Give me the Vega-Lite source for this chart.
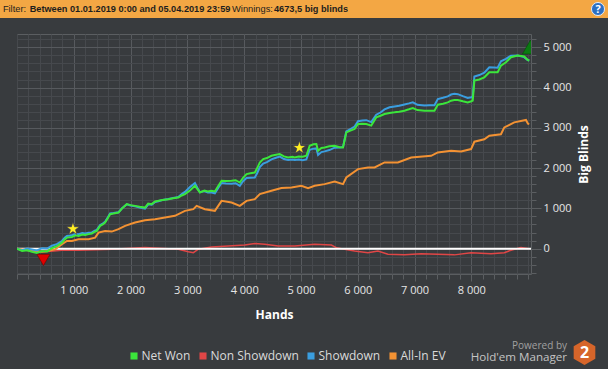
{
  "$schema": "https://vega.github.io/schema/vega-lite/v6.json",
  "background": "#383b3e",
  "padding": {"left": 0, "top": 0, "right": 0, "bottom": 4},
  "spacing": 15,
  "datasets": {
    "lines": [
      {"series":"Net Won","hands":0,"bb":0},{"series":"Net Won","hands":90,"bb":-60},{"series":"Net Won","hands":180,"bb":-40},{"series":"Net Won","hands":264,"bb":-80},{"series":"Net Won","hands":350,"bb":-110},{"series":"Net Won","hands":439,"bb":-60},{"series":"Net Won","hands":530,"bb":-70},{"series":"Net Won","hands":615,"bb":10},{"series":"Net Won","hands":700,"bb":60},{"series":"Net Won","hands":791,"bb":149},{"series":"Net Won","hands":840,"bb":230},{"series":"Net Won","hands":879,"bb":274},{"series":"Net Won","hands":966,"bb":291},{"series":"Net Won","hands":1030,"bb":330},{"series":"Net Won","hands":1084,"bb":316},{"series":"Net Won","hands":1150,"bb":350},{"series":"Net Won","hands":1200,"bb":341},{"series":"Net Won","hands":1260,"bb":360},{"series":"Net Won","hands":1318,"bb":373},{"series":"Net Won","hands":1370,"bb":420},{"series":"Net Won","hands":1406,"bb":440},{"series":"Net Won","hands":1464,"bb":565},{"series":"Net Won","hands":1510,"bb":600},{"series":"Net Won","hands":1551,"bb":647},{"series":"Net Won","hands":1600,"bb":760},{"series":"Net Won","hands":1639,"bb":856},{"series":"Net Won","hands":1700,"bb":870},{"series":"Net Won","hands":1787,"bb":896},{"series":"Net Won","hands":1850,"bb":1000},{"series":"Net Won","hands":1933,"bb":1105},{"series":"Net Won","hands":2000,"bb":1080},{"series":"Net Won","hands":2079,"bb":1062},{"series":"Net Won","hands":2160,"bb":1040},{"series":"Net Won","hands":2254,"bb":1020},{"series":"Net Won","hands":2310,"bb":1120},{"series":"Net Won","hands":2372,"bb":1105},{"series":"Net Won","hands":2430,"bb":1170},{"series":"Net Won","hands":2490,"bb":1187},{"series":"Net Won","hands":2560,"bb":1210},{"series":"Net Won","hands":2665,"bb":1229},{"series":"Net Won","hands":2750,"bb":1250},{"series":"Net Won","hands":2841,"bb":1269},{"series":"Net Won","hands":2900,"bb":1320},{"series":"Net Won","hands":2957,"bb":1353},{"series":"Net Won","hands":3050,"bb":1450},{"series":"Net Won","hands":3133,"bb":1560},{"series":"Net Won","hands":3180,"bb":1470},{"series":"Net Won","hands":3221,"bb":1393},{"series":"Net Won","hands":3300,"bb":1440},{"series":"Net Won","hands":3360,"bb":1420},{"series":"Net Won","hands":3426,"bb":1436},{"series":"Net Won","hands":3484,"bb":1420},{"series":"Net Won","hands":3540,"bb":1550},{"series":"Net Won","hands":3602,"bb":1684},{"series":"Net Won","hands":3680,"bb":1680},{"series":"Net Won","hands":3778,"bb":1684},{"series":"Net Won","hands":3850,"bb":1700},{"series":"Net Won","hands":3923,"bb":1642},{"series":"Net Won","hands":3980,"bb":1760},{"series":"Net Won","hands":4041,"bb":1851},{"series":"Net Won","hands":4110,"bb":1870},{"series":"Net Won","hands":4187,"bb":1891},{"series":"Net Won","hands":4230,"bb":2000},{"series":"Net Won","hands":4275,"bb":2140},{"series":"Net Won","hands":4335,"bb":2224},{"series":"Net Won","hands":4400,"bb":2250},{"series":"Net Won","hands":4480,"bb":2306},{"series":"Net Won","hands":4560,"bb":2330},{"series":"Net Won","hands":4626,"bb":2349},{"series":"Net Won","hands":4700,"bb":2290},{"series":"Net Won","hands":4774,"bb":2264},{"series":"Net Won","hands":4850,"bb":2280},{"series":"Net Won","hands":4890,"bb":2264},{"series":"Net Won","hands":4960,"bb":2290},{"series":"Net Won","hands":5030,"bb":2280},{"series":"Net Won","hands":5095,"bb":2306},{"series":"Net Won","hands":5153,"bb":2555},{"series":"Net Won","hands":5220,"bb":2590},{"series":"Net Won","hands":5271,"bb":2597},{"series":"Net Won","hands":5301,"bb":2431},{"series":"Net Won","hands":5360,"bb":2500},{"series":"Net Won","hands":5417,"bb":2513},{"series":"Net Won","hands":5500,"bb":2540},{"series":"Net Won","hands":5593,"bb":2555},{"series":"Net Won","hands":5680,"bb":2520},{"series":"Net Won","hands":5740,"bb":2513},{"series":"Net Won","hands":5798,"bb":2886},{"series":"Net Won","hands":5870,"bb":2930},{"series":"Net Won","hands":5944,"bb":2971},{"series":"Net Won","hands":6004,"bb":3095},{"series":"Net Won","hands":6080,"bb":3100},{"series":"Net Won","hands":6150,"bb":3095},{"series":"Net Won","hands":6237,"bb":3055},{"series":"Net Won","hands":6325,"bb":3259},{"series":"Net Won","hands":6400,"bb":3300},{"series":"Net Won","hands":6471,"bb":3344},{"series":"Net Won","hands":6560,"bb":3370},{"series":"Net Won","hands":6647,"bb":3384},{"series":"Net Won","hands":6730,"bb":3400},{"series":"Net Won","hands":6822,"bb":3426},{"series":"Net Won","hands":6900,"bb":3460},{"series":"Net Won","hands":6970,"bb":3493},{"series":"Net Won","hands":7050,"bb":3440},{"series":"Net Won","hands":7174,"bb":3426},{"series":"Net Won","hands":7260,"bb":3426},{"series":"Net Won","hands":7350,"bb":3426},{"series":"Net Won","hands":7409,"bb":3575},{"series":"Net Won","hands":7500,"bb":3600},{"series":"Net Won","hands":7585,"bb":3632},{"series":"Net Won","hands":7643,"bb":3675},{"series":"Net Won","hands":7700,"bb":3690},{"series":"Net Won","hands":7761,"bb":3692},{"series":"Net Won","hands":7850,"bb":3660},{"series":"Net Won","hands":7936,"bb":3632},{"series":"Net Won","hands":8000,"bb":3660},{"series":"Net Won","hands":8024,"bb":3675},{"series":"Net Won","hands":8053,"bb":4172},{"series":"Net Won","hands":8140,"bb":4200},{"series":"Net Won","hands":8228,"bb":4254},{"series":"Net Won","hands":8316,"bb":4379},{"series":"Net Won","hands":8400,"bb":4380},{"series":"Net Won","hands":8463,"bb":4379},{"series":"Net Won","hands":8521,"bb":4546},{"series":"Net Won","hands":8609,"bb":4628},{"series":"Net Won","hands":8697,"bb":4752},{"series":"Net Won","hands":8815,"bb":4794},{"series":"Net Won","hands":8931,"bb":4770},{"series":"Net Won","hands":8991,"bb":4687},{"series":"Net Won","hands":9020,"bb":4673.5},
      {"series":"Showdown","hands":0,"bb":0},{"series":"Showdown","hands":90,"bb":-40},{"series":"Showdown","hands":180,"bb":0},{"series":"Showdown","hands":264,"bb":-20},{"series":"Showdown","hands":350,"bb":-44},{"series":"Showdown","hands":439,"bb":12},{"series":"Showdown","hands":530,"bb":1},{"series":"Showdown","hands":615,"bb":71},{"series":"Showdown","hands":700,"bb":111},{"series":"Showdown","hands":791,"bb":189},{"series":"Showdown","hands":840,"bb":270},{"series":"Showdown","hands":879,"bb":314},{"series":"Showdown","hands":966,"bb":331},{"series":"Showdown","hands":1030,"bb":370},{"series":"Showdown","hands":1084,"bb":356},{"series":"Showdown","hands":1150,"bb":387},{"series":"Showdown","hands":1200,"bb":376},{"series":"Showdown","hands":1260,"bb":392},{"series":"Showdown","hands":1318,"bb":403},{"series":"Showdown","hands":1370,"bb":448},{"series":"Showdown","hands":1406,"bb":466},{"series":"Showdown","hands":1464,"bb":589},{"series":"Showdown","hands":1510,"bb":622},{"series":"Showdown","hands":1551,"bb":667},{"series":"Showdown","hands":1600,"bb":778},{"series":"Showdown","hands":1639,"bb":873},{"series":"Showdown","hands":1700,"bb":883},{"series":"Showdown","hands":1787,"bb":903},{"series":"Showdown","hands":1850,"bb":1003},{"series":"Showdown","hands":1933,"bb":1102},{"series":"Showdown","hands":2000,"bb":1073},{"series":"Showdown","hands":2079,"bb":1049},{"series":"Showdown","hands":2160,"bb":1021},{"series":"Showdown","hands":2254,"bb":995},{"series":"Showdown","hands":2310,"bb":1099},{"series":"Showdown","hands":2372,"bb":1088},{"series":"Showdown","hands":2430,"bb":1157},{"series":"Showdown","hands":2490,"bb":1178},{"series":"Showdown","hands":2560,"bb":1206},{"series":"Showdown","hands":2665,"bb":1232},{"series":"Showdown","hands":2750,"bb":1259},{"series":"Showdown","hands":2841,"bb":1284},{"series":"Showdown","hands":2900,"bb":1355},{"series":"Showdown","hands":2957,"bb":1408},{"series":"Showdown","hands":3050,"bb":1534},{"series":"Showdown","hands":3133,"bb":1630},{"series":"Showdown","hands":3180,"bb":1498},{"series":"Showdown","hands":3221,"bb":1401},{"series":"Showdown","hands":3300,"bb":1430},{"series":"Showdown","hands":3360,"bb":1396},{"series":"Showdown","hands":3426,"bb":1396},{"series":"Showdown","hands":3484,"bb":1375},{"series":"Showdown","hands":3540,"bb":1500},{"series":"Showdown","hands":3602,"bb":1629},{"series":"Showdown","hands":3680,"bb":1618},{"series":"Showdown","hands":3778,"bb":1614},{"series":"Showdown","hands":3850,"bb":1624},{"series":"Showdown","hands":3923,"bb":1560},{"series":"Showdown","hands":3980,"bb":1673},{"series":"Showdown","hands":4041,"bb":1755},{"series":"Showdown","hands":4110,"bb":1760},{"series":"Showdown","hands":4187,"bb":1766},{"series":"Showdown","hands":4230,"bb":1879},{"series":"Showdown","hands":4275,"bb":2023},{"series":"Showdown","hands":4335,"bb":2112},{"series":"Showdown","hands":4400,"bb":2147},{"series":"Showdown","hands":4480,"bb":2218},{"series":"Showdown","hands":4560,"bb":2258},{"series":"Showdown","hands":4626,"bb":2284},{"series":"Showdown","hands":4700,"bb":2225},{"series":"Showdown","hands":4774,"bb":2199},{"series":"Showdown","hands":4850,"bb":2215},{"series":"Showdown","hands":4890,"bb":2199},{"series":"Showdown","hands":4960,"bb":2216},{"series":"Showdown","hands":5030,"bb":2197},{"series":"Showdown","hands":5095,"bb":2215},{"series":"Showdown","hands":5153,"bb":2456},{"series":"Showdown","hands":5220,"bb":2483},{"series":"Showdown","hands":5271,"bb":2489},{"series":"Showdown","hands":5301,"bb":2325},{"series":"Showdown","hands":5360,"bb":2398},{"series":"Showdown","hands":5417,"bb":2415},{"series":"Showdown","hands":5500,"bb":2448},{"series":"Showdown","hands":5593,"bb":2508},{"series":"Showdown","hands":5680,"bb":2511},{"series":"Showdown","hands":5740,"bb":2521},{"series":"Showdown","hands":5798,"bb":2909},{"series":"Showdown","hands":5870,"bb":2971},{"series":"Showdown","hands":5944,"bb":3031},{"series":"Showdown","hands":6004,"bb":3165},{"series":"Showdown","hands":6080,"bb":3183},{"series":"Showdown","hands":6150,"bb":3190},{"series":"Showdown","hands":6237,"bb":3142},{"series":"Showdown","hands":6325,"bb":3326},{"series":"Showdown","hands":6400,"bb":3380},{"series":"Showdown","hands":6471,"bb":3457},{"series":"Showdown","hands":6560,"bb":3511},{"series":"Showdown","hands":6647,"bb":3530},{"series":"Showdown","hands":6730,"bb":3550},{"series":"Showdown","hands":6822,"bb":3581},{"series":"Showdown","hands":6900,"bb":3607},{"series":"Showdown","hands":6970,"bb":3633},{"series":"Showdown","hands":7050,"bb":3572},{"series":"Showdown","hands":7174,"bb":3554},{"series":"Showdown","hands":7260,"bb":3558},{"series":"Showdown","hands":7350,"bb":3563},{"series":"Showdown","hands":7409,"bb":3715},{"series":"Showdown","hands":7500,"bb":3745},{"series":"Showdown","hands":7585,"bb":3781},{"series":"Showdown","hands":7643,"bb":3827},{"series":"Showdown","hands":7700,"bb":3845},{"series":"Showdown","hands":7761,"bb":3836},{"series":"Showdown","hands":7850,"bb":3787},{"series":"Showdown","hands":7936,"bb":3743},{"series":"Showdown","hands":8000,"bb":3760},{"series":"Showdown","hands":8024,"bb":3777},{"series":"Showdown","hands":8053,"bb":4276},{"series":"Showdown","hands":8140,"bb":4310},{"series":"Showdown","hands":8228,"bb":4370},{"series":"Showdown","hands":8316,"bb":4502},{"series":"Showdown","hands":8400,"bb":4499},{"series":"Showdown","hands":8463,"bb":4491},{"series":"Showdown","hands":8521,"bb":4652},{"series":"Showdown","hands":8609,"bb":4713},{"series":"Showdown","hands":8697,"bb":4792},{"series":"Showdown","hands":8815,"bb":4798},{"series":"Showdown","hands":8931,"bb":4755},{"series":"Showdown","hands":8991,"bb":4682},{"series":"Showdown","hands":9020,"bb":4673.5},
      {"series":"Non Showdown","hands":0,"bb":0},{"series":"Non Showdown","hands":264,"bb":-60},{"series":"Non Showdown","hands":497,"bb":-75},{"series":"Non Showdown","hands":791,"bb":-40},{"series":"Non Showdown","hands":1084,"bb":-40},{"series":"Non Showdown","hands":1669,"bb":-15},{"series":"Non Showdown","hands":2254,"bb":25},{"series":"Non Showdown","hands":2841,"bb":-15},{"series":"Non Showdown","hands":3017,"bb":-75},{"series":"Non Showdown","hands":3105,"bb":-100},{"series":"Non Showdown","hands":3193,"bb":-15},{"series":"Non Showdown","hands":3426,"bb":40},{"series":"Non Showdown","hands":3720,"bb":65},{"series":"Non Showdown","hands":4011,"bb":90},{"series":"Non Showdown","hands":4187,"bb":125},{"series":"Non Showdown","hands":4363,"bb":110},{"series":"Non Showdown","hands":4598,"bb":65},{"series":"Non Showdown","hands":4890,"bb":65},{"series":"Non Showdown","hands":5241,"bb":110},{"series":"Non Showdown","hands":5535,"bb":90},{"series":"Non Showdown","hands":5622,"bb":25},{"series":"Non Showdown","hands":5768,"bb":-15},{"series":"Non Showdown","hands":5944,"bb":-60},{"series":"Non Showdown","hands":6179,"bb":-100},{"series":"Non Showdown","hands":6355,"bb":-60},{"series":"Non Showdown","hands":6531,"bb":-140},{"series":"Non Showdown","hands":6822,"bb":-155},{"series":"Non Showdown","hands":7116,"bb":-125},{"series":"Non Showdown","hands":7409,"bb":-140},{"series":"Non Showdown","hands":7701,"bb":-155},{"series":"Non Showdown","hands":7995,"bb":-100},{"series":"Non Showdown","hands":8346,"bb":-125},{"series":"Non Showdown","hands":8580,"bb":-100},{"series":"Non Showdown","hands":8697,"bb":-40},{"series":"Non Showdown","hands":8873,"bb":25},{"series":"Non Showdown","hands":9020,"bb":0},
      {"series":"All-In EV","hands":0,"bb":0},{"series":"All-In EV","hands":264,"bb":-50},{"series":"All-In EV","hands":439,"bb":-80},{"series":"All-In EV","hands":530,"bb":-60},{"series":"All-In EV","hands":673,"bb":-15},{"series":"All-In EV","hands":791,"bb":109},{"series":"All-In EV","hands":879,"bb":192},{"series":"All-In EV","hands":966,"bb":192},{"series":"All-In EV","hands":1084,"bb":234},{"series":"All-In EV","hands":1260,"bb":234},{"series":"All-In EV","hands":1376,"bb":274},{"series":"All-In EV","hands":1435,"bb":398},{"series":"All-In EV","hands":1551,"bb":440},{"series":"All-In EV","hands":1669,"bb":423},{"series":"All-In EV","hands":1787,"bb":483},{"series":"All-In EV","hands":1903,"bb":565},{"series":"All-In EV","hands":2079,"bb":647},{"series":"All-In EV","hands":2254,"bb":707},{"series":"All-In EV","hands":2430,"bb":731},{"series":"All-In EV","hands":2606,"bb":771},{"series":"All-In EV","hands":2781,"bb":814},{"series":"All-In EV","hands":2957,"bb":938},{"series":"All-In EV","hands":3105,"bb":980},{"series":"All-In EV","hands":3163,"bb":1062},{"series":"All-In EV","hands":3308,"bb":980},{"series":"All-In EV","hands":3484,"bb":938},{"series":"All-In EV","hands":3602,"bb":1187},{"series":"All-In EV","hands":3778,"bb":1144},{"series":"All-In EV","hands":3923,"bb":1062},{"series":"All-In EV","hands":4041,"bb":1187},{"series":"All-In EV","hands":4187,"bb":1229},{"series":"All-In EV","hands":4275,"bb":1353},{"series":"All-In EV","hands":4480,"bb":1436},{"series":"All-In EV","hands":4656,"bb":1503},{"series":"All-In EV","hands":4832,"bb":1518},{"series":"All-In EV","hands":5007,"bb":1560},{"series":"All-In EV","hands":5125,"bb":1503},{"series":"All-In EV","hands":5241,"bb":1560},{"series":"All-In EV","hands":5417,"bb":1602},{"series":"All-In EV","hands":5593,"bb":1667},{"series":"All-In EV","hands":5740,"bb":1602},{"series":"All-In EV","hands":5798,"bb":1766},{"series":"All-In EV","hands":6004,"bb":1975},{"series":"All-In EV","hands":6179,"bb":2015},{"series":"All-In EV","hands":6296,"bb":2015},{"series":"All-In EV","hands":6471,"bb":2140},{"series":"All-In EV","hands":6706,"bb":2140},{"series":"All-In EV","hands":6940,"bb":2264},{"series":"All-In EV","hands":7292,"bb":2306},{"series":"All-In EV","hands":7409,"bb":2388},{"series":"All-In EV","hands":7643,"bb":2431},{"series":"All-In EV","hands":7819,"bb":2413},{"series":"All-In EV","hands":7995,"bb":2473},{"series":"All-In EV","hands":8053,"bb":2655},{"series":"All-In EV","hands":8228,"bb":2717},{"series":"All-In EV","hands":8316,"bb":2804},{"series":"All-In EV","hands":8521,"bb":2841},{"series":"All-In EV","hands":8580,"bb":3010},{"series":"All-In EV","hands":8755,"bb":3135},{"series":"All-In EV","hands":8961,"bb":3195},{"series":"All-In EV","hands":8996,"bb":3102},{"series":"All-In EV","hands":9019,"bb":3095}
    ],
    "markers": [
      {"kind":"star","hands":985,"bb":490},
      {"kind":"star","hands":4972,"bb":2505},
      {"kind":"min","hands":466,"bb":-281},
      {"kind":"max","hands":9040,"bb":5006}
    ]
  },
  "vconcat": [
    {
      "hconcat": [
        {"width":29,"height":18,"view":{"fill":"#f3a744","stroke":null},"data":{"values":[{"t":"Filter:"}]},"mark":{"type":"text","font":"Liberation Sans","fontSize":9.3,"color":"#1e1e1e"},"encoding":{"text":{"field":"t","type":"nominal"}}},
        {"width":202,"height":18,"view":{"fill":"#f3a744","stroke":null},"data":{"values":[{"t":"Between 01.01.2019 0:00 and 05.04.2019 23:59"}]},"mark":{"type":"text","font":"Liberation Sans","fontSize":9.2,"fontWeight":"bold","color":"#1e1e1e"},"encoding":{"text":{"field":"t","type":"nominal"}}},
        {"width":43,"height":18,"view":{"fill":"#f3a744","stroke":null},"data":{"values":[{"t":"Winnings:"}]},"mark":{"type":"text","font":"Liberation Sans","fontSize":9.3,"color":"#1e1e1e"},"encoding":{"text":{"field":"t","type":"nominal"}}},
        {"width":74,"height":18,"view":{"fill":"#f3a744","stroke":null},"data":{"values":[{"t":"4673,5 big blinds"}]},"mark":{"type":"text","font":"Liberation Sans","fontSize":9.2,"fontWeight":"bold","color":"#1e1e1e"},"encoding":{"text":{"field":"t","type":"nominal"}}},
        {"width":240,"height":18,"view":{"fill":"#f3a744","stroke":null},"data":{"values":[{"t":""}]},"mark":{"type":"text"},"encoding":{"text":{"field":"t","type":"nominal"}}},
        {"width":20,"height":18,"view":{"fill":"#f3a744","stroke":null},"data":{"values":[{"t":"?"}]},
         "title":{"text":"?","orient":"top","anchor":"middle","frame":"group","offset":-15,"font":"Open Sans","fontSize":11,"fontWeight":"bold","color":"#ffffff"},
         "mark":{"type":"point","shape":"circle","size":170,"filled":true,"fill":"#2c6fc2","stroke":"#e3ecf7","strokeWidth":1,"opacity":1}}
      ],
      "spacing": 0,
      "bounds": "flush"
    },
    {
      "hconcat": [
        {"width":15,"height":240,"view":{"stroke":null},"data":{"values":[{"t":""}]},"mark":{"type":"text"},"encoding":{"text":{"field":"t","type":"nominal"}}},
        {
          "width": 514,
          "height": 240,
          "title": {"text":"Powered by","subtitle":"Hold'em Manager","orient":"bottom","anchor":"end","frame":"bounds","offset":21,"dx":-22,"font":"Open Sans","fontSize":10,"fontWeight":"normal","color":"#a0a0a0","subtitleFont":"Open Sans","subtitleFontSize":11.6,"subtitleColor":"#c4c4c4","subtitlePadding":1},
          "layer": [
            {
              "data":{"name":"lines"},
              "transform":[{"filter":"datum.series === 'Non Showdown'"}],
              "mark":{"type":"line","strokeWidth":1.5,"clip":true},
              "encoding":{
                "x":{"field":"hands","type":"quantitative","scale":{"domain":[0,9050],"nice":false,"zero":false},
                     "axis":{"orient":"bottom","values":[0,200,400,600,800,1000,1200,1400,1600,1800,2000,2200,2400,2600,2800,3000,3200,3400,3600,3800,4000,4200,4400,4600,4800,5000,5200,5400,5600,5800,6000,6200,6400,6600,6800,7000,7200,7400,7600,7800,8000,8200,8400,8600,8800,9000],"grid":true,"gridColor":"#46494d","labels":false,"ticks":true,"tickSize":5,"tickColor":"#5b5e61","domain":false,"title":null}},
                "y":{"field":"bb","type":"quantitative","scale":{"domain":[-630,5330],"nice":false,"zero":false},
                     "axis":{"orient":"right","values":[-600,-400,-200,0,200,400,600,800,1000,1200,1400,1600,1800,2000,2200,2400,2600,2800,3000,3200,3400,3600,3800,4000,4200,4400,4600,4800,5000,5200],"grid":true,"gridColor":"#46494d","labels":false,"ticks":true,"tickSize":5,"tickColor":"#5b5e61","domain":false,"title":null}},
                "color":{"field":"series","type":"nominal",
                         "scale":{"domain":["Net Won","Non Showdown","Showdown","All-In EV"],"range":["#3be63b","#e04646","#3a9ee0","#f39233"]},
                         "legend":{"orient":"none","legendX":128,"legendY":350,"direction":"horizontal","title":null,"symbolType":"square","symbolSize":50,"symbolStrokeWidth":0,"labelFont":"Open Sans","labelFontSize":12,"labelColor":"#dadada","columnPadding":6,"labelOffset":1.5,"padding":0,
                                   "encode":{"symbols":{"update":{"fill":{"scale":"color","field":"value"},"strokeWidth":{"value":0}}}}}}
              }
            },
            {
              "data":{"values":[{}]},
              "mark":{"type":"rule","color":"#ffffff","strokeWidth":2},
              "encoding":{"y":{"datum":0,"type":"quantitative","axis":null}}
            },
            {
              "data":{"name":"lines"},
              "transform":[{"filter":"datum.series === 'All-In EV'"}],
              "mark":{"type":"line","strokeWidth":2,"clip":true},
              "encoding":{
                "x":{"field":"hands","type":"quantitative",
                     "axis":{"orient":"bottom","values":[1000,2000,3000,4000,5000,6000,7000,8000],"labelExpr":"replace(format(datum.value, ','), ',', ' ')","grid":true,"gridColor":"#575a5e","ticks":true,"tickSize":7,"tickColor":"#5b5e61","labelPadding":3,"domain":false,"title":"Hands","titlePadding":14}},
                "y":{"field":"bb","type":"quantitative",
                     "axis":{"orient":"right","values":[0,1000,2000,3000,4000,5000],"labelExpr":"replace(format(datum.value, ','), ',', ' ')","grid":true,"gridColor":"#575a5e","ticks":true,"tickSize":10,"tickColor":"#5b5e61","labelPadding":2,"labelAlign":"left","labelBaseline":"middle","domain":false,"title":"Big Blinds","titleAngle":270,"titleBaseline":"top","titlePadding":7}},
                "color":{"field":"series","type":"nominal"}
              }
            },
            {
              "data":{"name":"lines"},
              "transform":[{"filter":"datum.series === 'Showdown'"}],
              "mark":{"type":"line","strokeWidth":2,"clip":true},
              "encoding":{
                "x":{"field":"hands","type":"quantitative","axis":null},
                "y":{"field":"bb","type":"quantitative","axis":null},
                "color":{"field":"series","type":"nominal"}
              }
            },
            {
              "data":{"name":"lines"},
              "transform":[{"filter":"datum.series === 'Net Won'"}],
              "mark":{"type":"line","strokeWidth":2,"clip":true},
              "encoding":{
                "x":{"field":"hands","type":"quantitative","axis":null},
                "y":{"field":"bb","type":"quantitative","axis":null},
                "color":{"field":"series","type":"nominal"}
              }
            },
            {
              "data":{"name":"markers"},
              "transform":[{"filter":"datum.kind === 'star'"}],
              "mark":{"type":"point","shape":"M0,-1L0.2245,-0.309L0.951,-0.309L0.3633,0.118L0.5878,0.809L0,0.382L-0.5878,0.809L-0.3633,0.118L-0.951,-0.309L-0.2245,-0.309Z","size":190,"filled":true,"fill":"#ffee22","stroke":"#2b2b58","strokeWidth":0.6,"opacity":1},
              "encoding":{
                "x":{"field":"hands","type":"quantitative","axis":null},
                "y":{"field":"bb","type":"quantitative","axis":null}
              }
            },
            {
              "data":{"name":"markers"},
              "transform":[{"filter":"datum.kind === 'min'"}],
              "mark":{"type":"point","shape":"triangle-down","size":170,"filled":true,"fill":"#e00000","stroke":"#700000","strokeWidth":0.6,"opacity":1},
              "encoding":{
                "x":{"field":"hands","type":"quantitative","axis":null},
                "y":{"field":"bb","type":"quantitative","axis":null}
              }
            },
            {
              "data":{"name":"markers"},
              "transform":[{"filter":"datum.kind === 'max'"}],
              "mark":{"type":"point","shape":"triangle-up","size":260,"filled":true,"fill":"#0b7a12","stroke":"#064a0a","strokeWidth":0.6,"opacity":1,"clip":true},
              "encoding":{
                "x":{"field":"hands","type":"quantitative","axis":null},
                "y":{"field":"bb","type":"quantitative","axis":null}
              }
            },
            {
              "data":{"values":[{"brand":"2"}]},
              "mark":{"type":"point","opacity":0,"filled":true},
              "encoding":{
                "fill":{"field":"brand","type":"nominal","scale":{"range":["#d6652a"]},
                        "legend":{"orient":"none","legendX":572,"legendY":340,"title":null,"symbolType":"M0,-1L0.866,-0.5L0.866,0.5L0,1L-0.866,0.5L-0.866,-0.5Z","symbolSize":625,"symbolOpacity":1,"symbolStrokeWidth":0,"labelOffset":-17,"labelColor":"#ffffff","labelFontSize":16,"labelFontWeight":"bold","labelFont":"Open Sans","padding":0}}
              }
            }
          ],
          "resolve": {"axis": {"x": "independent", "y": "independent"}}
        }
      ],
      "spacing": 0
    }
  ],
  "config": {
    "view": {"stroke": "#5b5e61", "strokeWidth": 1},
    "axis": {"labelFont": "Open Sans", "labelFontSize": 11, "labelColor": "#e6e6e6", "titleFont": "Open Sans", "titleFontSize": 12, "titleFontWeight": "bold", "titleColor": "#ffffff"}
  }
}
